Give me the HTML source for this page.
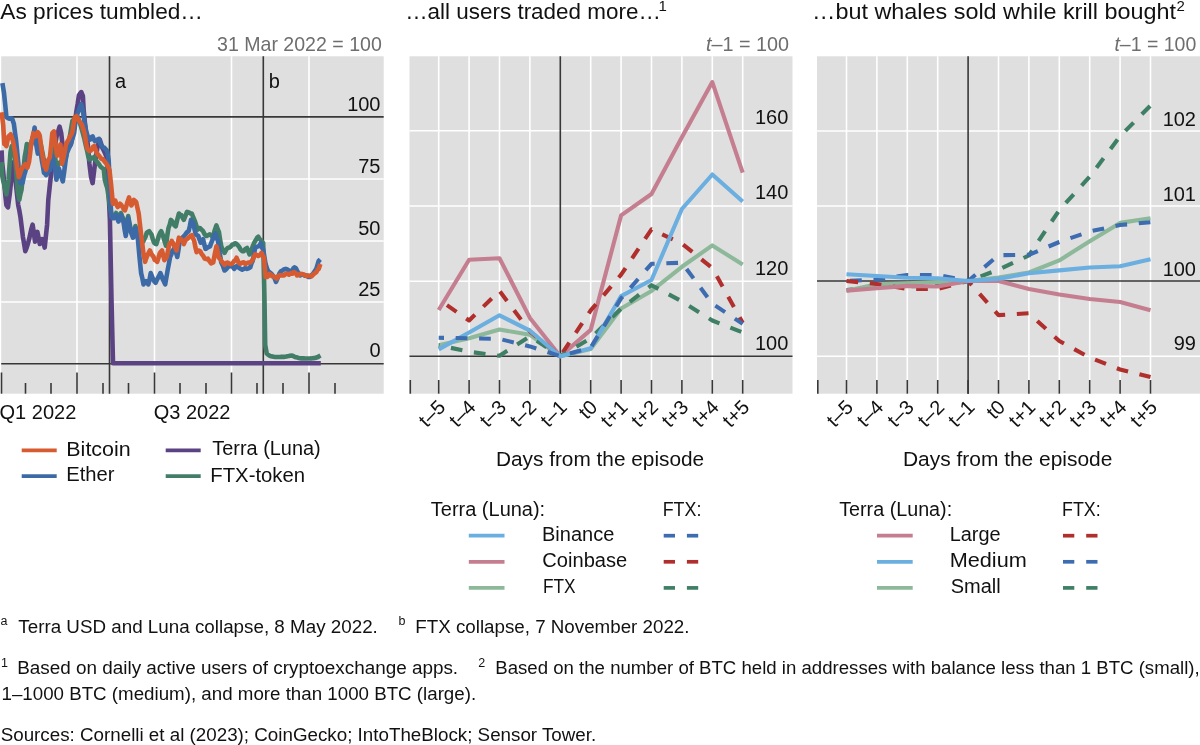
<!DOCTYPE html>
<html><head><meta charset="utf-8"><style>
html,body{margin:0;padding:0;background:#fff;}
svg{display:block;font-family:"Liberation Sans", sans-serif;will-change:transform;}
text{stroke:none;}

</style></head><body>
<svg width="1200" height="745" viewBox="0 0 1200 745">
<rect x="1.2" y="56.3" width="382.5" height="337.4" fill="#dfdfdf"/>
<line x1="1.2" y1="179" x2="383.7" y2="179" stroke="#fff" stroke-width="1.6" />
<line x1="1.2" y1="241" x2="383.7" y2="241" stroke="#fff" stroke-width="1.6" />
<line x1="1.2" y1="302" x2="383.7" y2="302" stroke="#fff" stroke-width="1.6" />
<line x1="77" y1="56.3" x2="77" y2="393.7" stroke="#fff" stroke-width="1.6" />
<line x1="154.5" y1="56.3" x2="154.5" y2="393.7" stroke="#fff" stroke-width="1.6" />
<line x1="231.5" y1="56.3" x2="231.5" y2="393.7" stroke="#fff" stroke-width="1.6" />
<line x1="309" y1="56.3" x2="309" y2="393.7" stroke="#fff" stroke-width="1.6" />
<line x1="1.2" y1="116.9" x2="383.7" y2="116.9" stroke="#383838" stroke-width="1.6" />
<line x1="1.2" y1="363.8" x2="383.7" y2="363.8" stroke="#383838" stroke-width="1.6" />
<line x1="109.5" y1="56.3" x2="109.5" y2="393.7" stroke="#383838" stroke-width="1.6" />
<line x1="263.3" y1="56.3" x2="263.3" y2="393.7" stroke="#383838" stroke-width="1.6" />
<line x1="1.5" y1="372.5" x2="1.5" y2="393.7" stroke="#383838" stroke-width="1.6" />
<line x1="77" y1="372.5" x2="77" y2="393.7" stroke="#383838" stroke-width="1.6" />
<line x1="154.5" y1="372.5" x2="154.5" y2="393.7" stroke="#383838" stroke-width="1.6" />
<line x1="231.5" y1="372.5" x2="231.5" y2="393.7" stroke="#383838" stroke-width="1.6" />
<line x1="309" y1="372.5" x2="309" y2="393.7" stroke="#383838" stroke-width="1.6" />
<line x1="25.5" y1="383" x2="25.5" y2="393.7" stroke="#383838" stroke-width="1.6" />
<line x1="51" y1="383" x2="51" y2="393.7" stroke="#383838" stroke-width="1.6" />
<line x1="103" y1="383" x2="103" y2="393.7" stroke="#383838" stroke-width="1.6" />
<line x1="128.5" y1="383" x2="128.5" y2="393.7" stroke="#383838" stroke-width="1.6" />
<line x1="180" y1="383" x2="180" y2="393.7" stroke="#383838" stroke-width="1.6" />
<line x1="206" y1="383" x2="206" y2="393.7" stroke="#383838" stroke-width="1.6" />
<line x1="257" y1="383" x2="257" y2="393.7" stroke="#383838" stroke-width="1.6" />
<line x1="283" y1="383" x2="283" y2="393.7" stroke="#383838" stroke-width="1.6" />
<line x1="335" y1="383" x2="335" y2="393.7" stroke="#383838" stroke-width="1.6" />
<polyline points="1.6,150.4 2.1,162.0 3.2,172.1 4.3,183.6 5.3,195.0 6.4,205.1 8.0,207.3 9.7,194.4 10.8,184.1 11.8,172.9 13.4,162.2 15.0,175.0 16.1,185.8 18.2,205.1 19.4,210.8 20.5,217.4 21.7,227.1 22.9,236.8 24.1,243.9 25.3,251.2 26.6,247.9 27.8,244.0 29.0,239.7 30.2,234.3 31.4,228.8 32.6,224.7 33.8,232.3 35.0,241.6 36.2,237.4 37.4,231.9 38.6,237.8 39.8,244.0 41.0,242.1 42.3,239.2 43.5,242.5 44.7,247.6 45.9,236.1 47.1,224.7 48.3,200.0 49.9,184.7 51.5,170.2 53.1,159.3 54.8,147.6 56.0,139.9 57.2,133.1 58.4,130.7 59.6,126.7 61.2,133.1 62.8,147.6 64.4,154.1 66.0,152.4 67.6,149.2 69.2,146.0 70.9,144.4 72.5,135.5 74.1,128.3 75.3,119.5 76.5,110.6 77.7,103.7 78.9,95.3 80.1,93.5 81.3,92.1 82.9,96.1 83.7,110.6 85.3,126.7 86.5,135.0 87.8,144.4 89.4,163.7 91.0,176.6 92.6,183.1 93.8,173.3 95.0,163.7 96.2,154.8 97.4,147.6 98.6,143.1 99.8,139.6 101.0,143.5 102.3,147.6 103.5,150.0 104.7,152.5 105.9,155.2 107.1,158.9 108.5,189.4 109.9,219.9 111.5,300.0 113.0,363.3 114.4,363.3 115.8,363.3 117.2,363.3 118.6,363.3 120.0,363.3 121.4,363.3 122.8,363.3 124.2,363.3 125.6,363.3 127.0,363.3 128.4,363.3 129.8,363.3 131.3,363.3 132.7,363.3 134.1,363.3 135.5,363.3 136.9,363.3 138.3,363.3 139.7,363.3 141.1,363.3 142.5,363.3 143.9,363.3 145.3,363.3 146.7,363.3 148.1,363.3 149.5,363.3 150.9,363.3 152.3,363.3 153.7,363.3 155.1,363.3 156.5,363.3 157.9,363.3 159.3,363.3 160.7,363.3 162.1,363.3 163.5,363.3 164.9,363.3 166.4,363.3 167.8,363.3 169.2,363.3 170.6,363.3 172.0,363.3 173.4,363.3 174.8,363.3 176.2,363.3 177.6,363.3 179.0,363.3 180.4,363.3 181.8,363.3 183.2,363.3 184.6,363.3 186.0,363.3 187.4,363.3 188.8,363.3 190.2,363.3 191.6,363.3 193.0,363.3 194.4,363.3 195.8,363.3 197.2,363.3 198.6,363.3 200.1,363.3 201.5,363.3 202.9,363.3 204.3,363.3 205.7,363.3 207.1,363.3 208.5,363.3 209.9,363.3 211.3,363.3 212.7,363.3 214.1,363.3 215.5,363.3 216.9,363.3 218.3,363.3 219.7,363.3 221.1,363.3 222.5,363.3 223.9,363.3 225.3,363.3 226.7,363.3 228.1,363.3 229.5,363.3 230.9,363.3 232.3,363.3 233.7,363.3 235.2,363.3 236.6,363.3 238.0,363.3 239.4,363.3 240.8,363.3 242.2,363.3 243.6,363.3 245.0,363.3 246.4,363.3 247.8,363.3 249.2,363.3 250.6,363.3 252.0,363.3 253.4,363.3 254.8,363.3 256.2,363.3 257.6,363.3 259.0,363.3 260.4,363.3 261.8,363.3 263.2,363.3 264.6,363.3 266.0,363.3 267.4,363.3 268.9,363.3 270.3,363.3 271.7,363.3 273.1,363.3 274.5,363.3 275.9,363.3 277.3,363.3 278.7,363.3 280.1,363.3 281.5,363.3 282.9,363.3 284.3,363.3 285.7,363.3 287.1,363.3 288.5,363.3 289.9,363.3 291.3,363.3 292.7,363.3 294.1,363.3 295.5,363.3 296.9,363.3 298.3,363.3 299.7,363.3 301.1,363.3 302.5,363.3 304.0,363.3 305.4,363.3 306.8,363.3 308.2,363.3 309.6,363.3 311.0,363.3 312.4,363.3 313.8,363.3 315.2,363.3 316.6,363.3 318.0,363.3 319.4,363.3 320.8,363.3" fill="none" stroke="#5b4283" stroke-width="4.6" stroke-linejoin="round" stroke-linecap="butt"/>
<polyline points="1.6,162.2 2.1,175.0 3.2,180.8 4.3,185.0 5.3,190.5 6.4,194.4 8.5,180.0 10.5,152.0 11.8,146.1 13.7,147.6 14.9,158.1 16.1,170.2 17.7,191.1 19.3,199.7 20.4,194.1 21.5,190.0 23.1,173.4 24.7,156.8 25.8,151.0 26.8,144.0 28.5,144.9 30.2,145.0 31.4,142.0 32.6,138.0 33.8,135.0 35.0,138.5 36.2,141.9 37.4,145.0 38.6,142.6 39.8,140.0 41.0,145.4 42.3,151.9 43.5,158.0 44.7,162.8 45.9,168.0 47.1,166.4 48.3,164.9 49.5,162.0 50.7,157.1 51.9,150.7 53.1,145.0 54.3,152.6 55.5,159.9 56.7,168.0 57.9,165.2 59.2,163.1 60.4,162.0 61.6,162.9 62.8,163.7 64.0,165.0 65.2,159.8 66.4,155.7 67.6,150.0 69.2,140.3 70.8,130.6 72.4,120.9 74.0,119.3 75.7,117.7 77.3,116.0 78.9,120.4 80.5,124.8 82.1,130.5 83.3,135.0 84.5,139.5 85.7,145.0 86.9,149.9 88.1,155.6 89.3,159.5 90.5,159.2 91.8,157.7 93.0,158.3 94.2,157.0 95.8,160.0 97.4,162.3 99.0,164.3 100.6,166.7 102.2,168.0 103.8,169.2 104.8,179.7 106.0,184.2 107.2,187.7 108.5,196.1 109.7,205.0 111.3,214.0 112.5,215.9 113.7,216.0 114.9,215.3 116.1,213.0 117.3,215.4 118.5,219.0 119.7,216.5 120.9,213.0 122.2,216.4 123.4,219.0 124.6,225.4 125.8,232.0 127.0,224.1 128.2,216.0 129.4,222.5 130.6,229.0 131.8,232.8 133.0,235.0 134.2,230.5 135.4,226.0 136.7,231.6 137.9,236.0 139.5,240.0 140.7,241.0 141.9,242.5 143.1,241.6 144.3,239.3 145.5,236.8 146.7,232.8 147.9,231.9 149.1,231.2 150.3,232.9 151.5,234.4 152.8,239.2 154.0,242.5 155.2,243.7 156.4,244.1 157.6,240.0 158.8,236.0 160.0,233.1 161.2,231.2 162.4,234.1 163.6,237.7 164.8,242.1 166.0,245.7 167.2,236.2 168.5,228.0 169.7,224.7 170.9,219.9 172.1,221.1 173.3,223.2 174.5,225.5 175.7,226.4 177.3,219.6 178.9,213.5 180.1,215.1 181.3,215.1 182.6,217.9 183.8,219.9 185.4,215.9 187.0,211.9 188.2,212.3 189.4,212.7 190.6,213.4 191.8,213.5 193.4,217.7 195.0,221.5 196.2,225.2 197.5,229.6 198.7,228.3 199.9,228.0 201.5,229.6 203.1,231.2 204.7,234.4 206.3,236.0 207.9,235.4 209.5,234.4 211.2,235.3 212.8,237.7 214.5,231.0 216.4,225.4 217.7,229.2 218.9,231.9 220.1,239.6 221.3,246.4 222.9,250.3 224.5,252.8 226.1,249.8 227.7,248.0 229.3,247.6 230.9,246.4 232.3,244.5 233.6,244.5 235.0,243.2 236.2,243.6 237.4,244.8 239.0,246.7 240.6,249.6 242.2,251.1 243.8,251.2 245.4,248.9 247.0,248.0 248.2,251.2 249.5,254.4 251.1,251.0 252.7,246.4 254.3,242.7 255.9,239.9 257.1,237.8 258.3,236.7 259.5,239.0 260.7,239.9 261.9,241.4 263.2,243.2 264.5,300.0 265.2,345.0 266.7,353.5 268.4,354.8 270.0,356.0 271.2,356.2 272.5,356.5 273.8,356.8 275.0,357.0 276.2,357.0 277.5,357.0 278.8,357.0 280.0,357.0 281.2,356.9 282.5,356.9 283.8,356.9 285.0,356.8 286.2,356.6 287.5,356.3 288.8,356.1 290.0,355.8 292.0,355.5 293.5,356.2 295.0,357.0 296.2,357.3 297.5,357.6 298.8,358.0 300.0,358.3 301.2,358.4 302.5,358.4 303.8,358.4 305.0,358.5 306.2,358.5 307.5,358.5 308.8,358.5 310.0,358.5 311.2,358.4 312.5,358.2 313.8,358.1 315.0,358.0 316.5,357.5 318.0,357.0 319.2,356.2 320.5,355.5" fill="none" stroke="#427d68" stroke-width="4.6" stroke-linejoin="round" stroke-linecap="butt"/>
<polyline points="2.4,83.2 4.0,92.9 5.2,104.5 6.4,117.0 7.7,117.9 8.9,118.6 10.5,118.4 12.1,118.6 13.9,124.0 15.0,132.5 16.1,140.7 18.2,162.2 19.3,176.0 20.5,183.1 22.5,183.1 24.2,175.0 25.4,171.2 26.6,167.0 27.8,159.8 29.0,154.1 30.6,146.8 32.2,141.2 33.4,135.0 34.6,127.5 36.2,144.4 37.8,153.6 39.7,146.1 41.8,160.0 42.9,166.0 44.0,172.9 45.0,173.5 46.1,175.1 47.2,173.8 48.3,170.8 49.9,170.2 51.1,162.9 52.3,155.7 53.5,162.0 54.8,167.0 56.4,179.8 57.6,174.2 58.8,168.6 60.4,173.4 61.6,177.7 62.8,181.4 64.4,170.2 65.6,160.7 66.8,152.5 68.0,150.3 69.2,147.6 70.5,145.1 71.7,141.2 72.9,137.2 74.1,133.1 75.7,120.3 77.3,113.8 78.5,111.0 79.7,107.4 81.3,104.2 82.9,110.6 84.5,121.9 86.2,131.5 87.8,136.4 89.0,138.3 90.2,139.6 91.4,137.2 92.6,136.4 93.8,139.3 95.0,141.2 96.2,140.6 97.4,139.6 99.0,138.8 100.6,144.4 101.8,145.6 103.1,147.6 104.3,147.6 105.5,149.2 107.1,150.9 108.7,160.5 110.0,190.0 111.3,216.7 112.5,218.2 113.7,218.3 114.9,216.7 116.1,215.1 117.3,218.7 118.5,221.5 119.7,219.0 120.9,215.1 122.2,218.7 123.4,221.5 124.6,229.5 125.8,236.0 127.0,227.0 128.2,218.3 129.4,225.3 130.6,231.2 131.8,234.4 133.0,237.7 134.2,233.6 135.4,228.0 136.7,234.3 137.9,239.3 139.5,257.0 141.1,273.1 142.3,278.0 143.5,284.4 144.7,282.1 145.9,281.1 147.1,282.2 148.3,284.4 149.5,279.6 150.7,273.1 151.9,276.2 153.2,279.5 154.4,281.4 155.6,282.8 156.8,280.0 158.0,277.9 159.2,275.5 160.4,273.1 161.6,276.1 162.8,279.5 164.0,281.7 165.2,284.4 166.4,277.3 167.7,269.9 168.9,263.6 170.1,257.0 171.3,254.5 172.5,250.5 173.7,249.2 174.9,247.3 176.1,252.9 177.3,257.0 178.5,249.6 179.7,240.9 180.9,240.2 182.2,237.7 183.8,236.4 185.4,234.4 187.0,232.2 188.6,231.2 189.8,226.2 191.0,219.9 192.2,222.4 193.4,223.2 194.6,229.5 195.8,234.4 197.1,235.3 198.3,236.0 199.5,239.6 200.7,242.5 201.9,240.4 203.1,239.3 204.3,244.7 205.5,248.9 206.7,248.2 207.9,247.3 210.0,246.4 211.6,242.0 213.2,238.3 214.4,235.1 215.6,233.5 216.8,238.1 218.1,241.5 219.7,252.9 221.3,262.5 222.9,265.8 224.5,270.5 226.1,269.4 227.7,267.3 229.3,266.3 230.9,265.7 232.6,266.7 234.2,268.9 235.8,266.9 237.4,265.7 239.0,267.8 240.6,268.9 242.2,269.6 243.8,268.9 245.4,268.1 247.0,268.9 248.7,268.3 250.3,267.3 251.5,263.3 252.7,260.9 253.9,254.8 255.1,248.0 256.7,246.9 258.3,246.4 259.5,245.5 260.7,243.2 261.9,247.3 263.2,249.6 264.4,256.9 265.6,264.1 267.2,268.9 268.4,271.4 269.6,272.2 271.2,273.5 272.8,275.4 274.4,277.8 276.0,281.8 277.6,278.0 279.3,273.8 280.9,271.3 282.5,270.5 284.1,269.2 285.7,268.9 287.3,269.5 288.9,270.5 290.5,270.7 292.2,270.5 293.4,268.3 294.6,267.3 295.8,268.1 297.0,270.5 298.6,273.6 300.2,275.4 301.8,274.7 303.4,274.6 305.0,275.8 306.6,275.4 308.2,276.9 309.9,277.0 311.5,275.2 313.1,273.8 314.7,271.3 316.3,268.9 317.5,264.9 318.7,260.9 320.3,259.3" fill="none" stroke="#3b6aa6" stroke-width="4.6" stroke-linejoin="round" stroke-linecap="butt"/>
<polyline points="1.6,112.2 3.2,125.1 4.3,144.0 5.3,144.6 6.4,146.1 7.5,140.5 8.6,136.4 10.7,134.3 11.8,137.3 12.9,140.7 15.0,151.5 16.1,158.9 17.2,167.6 18.8,177.2 20.4,172.9 21.4,169.5 22.5,167.6 23.9,165.8 25.2,164.3 26.3,166.7 27.4,167.6 29.0,162.2 30.1,153.6 31.1,144.0 32.2,139.1 33.3,133.2 34.3,134.3 35.4,136.4 36.5,134.3 37.6,132.1 38.7,133.3 39.7,135.4 41.8,151.5 42.9,157.9 44.0,165.4 45.0,166.8 46.1,169.7 47.2,164.3 48.3,160.0 49.9,157.3 51.1,146.0 52.3,133.1 53.9,131.5 55.6,144.4 57.2,155.7 58.8,154.1 60.4,144.4 62.0,163.7 63.6,157.3 64.8,151.4 66.0,144.4 67.6,141.2 68.8,139.4 70.0,136.4 71.2,134.5 72.5,131.5 73.7,123.7 74.9,117.0 76.5,116.2 78.1,119.5 79.7,121.9 80.9,123.2 82.1,125.1 83.3,129.3 84.5,133.1 85.8,140.8 87.0,147.6 88.2,149.9 89.4,150.9 90.6,150.7 91.8,149.2 93.0,146.9 94.2,146.0 95.4,149.4 96.6,152.5 97.8,154.4 99.0,155.7 100.2,157.3 101.4,158.9 102.7,159.1 103.9,160.5 105.1,162.1 106.3,163.7 107.9,166.2 109.5,170.2 111.1,184.7 112.9,203.8 114.1,203.0 115.3,200.6 116.5,204.5 117.7,207.0 118.9,205.5 120.1,203.8 121.3,205.0 122.6,207.0 123.8,209.4 125.0,210.3 126.2,206.4 127.4,202.2 129.0,197.4 130.2,202.1 131.4,205.4 132.6,203.2 133.8,199.8 135.0,201.0 136.2,202.2 137.4,207.7 138.7,213.5 139.9,224.1 141.1,234.4 142.3,244.0 143.5,253.8 145.1,261.8 146.3,258.0 147.5,255.4 148.7,252.6 149.9,250.5 151.2,253.5 152.4,255.4 153.6,257.0 154.8,260.2 156.0,260.2 157.2,261.8 158.4,258.0 159.6,253.8 160.8,251.8 162.0,250.5 163.2,255.4 164.4,260.2 165.6,258.5 166.8,257.0 168.1,250.3 169.3,244.1 170.5,243.4 171.7,240.9 172.9,242.8 174.1,245.7 175.3,247.9 176.5,250.5 177.7,243.6 178.9,237.7 180.1,238.7 181.3,239.3 182.6,241.3 183.8,244.1 185.0,241.4 186.2,239.3 187.4,238.9 188.6,237.7 190.2,236.1 191.8,235.2 193.0,238.2 194.2,240.9 195.4,247.3 196.6,252.2 197.8,250.6 199.1,250.5 200.3,251.4 201.5,253.8 203.1,255.7 204.7,258.6 206.3,259.1 207.9,258.6 209.5,261.2 211.1,263.4 213.2,262.5 214.8,254.0 216.4,246.4 217.7,251.7 218.9,257.7 220.1,258.7 221.3,260.9 222.9,262.8 224.5,264.9 226.1,262.9 227.7,262.5 229.3,263.7 230.9,264.1 232.6,263.2 234.2,260.9 235.4,260.1 236.6,257.7 237.8,260.9 239.0,263.3 240.6,263.7 242.2,262.5 243.8,262.4 245.4,264.1 247.1,262.9 248.7,262.5 250.3,262.5 251.9,260.9 253.5,258.1 255.1,254.4 256.7,255.0 258.3,256.0 259.9,255.2 261.5,252.8 262.8,255.5 264.0,257.7 265.6,277.0 267.2,277.0 268.4,276.0 269.6,273.8 270.8,274.6 272.0,276.2 273.2,276.0 274.4,277.0 275.6,277.7 276.8,278.6 278.1,276.3 279.3,275.4 280.9,275.2 282.5,275.4 284.1,275.4 285.7,273.8 287.3,273.9 288.9,274.6 290.5,273.3 292.2,273.8 293.4,272.2 294.6,272.2 295.8,273.2 297.0,275.4 298.6,275.1 300.2,273.8 301.8,274.0 303.4,274.6 305.0,275.0 306.6,276.2 308.2,275.5 309.9,276.2 311.5,276.3 313.1,274.6 314.7,273.3 316.3,272.2 317.5,270.0 318.7,268.9 320.3,264.1" fill="none" stroke="#d65b30" stroke-width="4.6" stroke-linejoin="round" stroke-linecap="butt"/>
<text x="380.5" y="110.5" font-size="20" text-anchor="end" fill="#111" class="g">100</text>
<text x="380.5" y="172.6" font-size="20" text-anchor="end" fill="#111" class="g">75</text>
<text x="380.5" y="234.6" font-size="20" text-anchor="end" fill="#111" class="g">50</text>
<text x="380.5" y="295.6" font-size="20" text-anchor="end" fill="#111" class="g">25</text>
<text x="380.5" y="357" font-size="20" text-anchor="end" fill="#111" class="g">0</text>
<text x="115" y="88.3" font-size="20" text-anchor="start" fill="#111" class="g">a</text>
<text x="268.7" y="88.3" font-size="20" text-anchor="start" fill="#111" class="g">b</text>
<text x="217.00" y="50.8" font-size="20.3" fill="#6e6e6e" textLength="164.83" lengthAdjust="spacingAndGlyphs">31 Mar 2022 = 100</text>
<text x="0.30" y="18.9" font-size="22.3" fill="#111" textLength="202.72" lengthAdjust="spacingAndGlyphs">As prices tumbled…</text>
<text x="-0.50" y="419" font-size="19.8" fill="#111" textLength="76.89" lengthAdjust="spacingAndGlyphs">Q1 2022</text>
<text x="153.70" y="419" font-size="19.8" fill="#111" textLength="76.69" lengthAdjust="spacingAndGlyphs">Q3 2022</text>
<text x="66.30" y="455.6" font-size="20" fill="#111" textLength="64.43" lengthAdjust="spacingAndGlyphs">Bitcoin</text>
<text x="66.30" y="481.4" font-size="20" fill="#111" textLength="48.21" lengthAdjust="spacingAndGlyphs">Ether</text>
<text x="212.30" y="455.3" font-size="20" fill="#111" textLength="108.34" lengthAdjust="spacingAndGlyphs">Terra (Luna)</text>
<text x="210.30" y="481.6" font-size="20" fill="#111" textLength="94.76" lengthAdjust="spacingAndGlyphs">FTX-token</text>
<line x1="21.7" y1="450.3" x2="56.7" y2="450.3" stroke="#d65b30" stroke-width="3.8" />
<line x1="21.7" y1="476.2" x2="56.7" y2="476.2" stroke="#3b6aa6" stroke-width="3.8" />
<line x1="165.7" y1="450.3" x2="200.7" y2="450.3" stroke="#5b4283" stroke-width="3.8" />
<line x1="165.7" y1="476.2" x2="200.7" y2="476.2" stroke="#427d68" stroke-width="3.8" />
<rect x="409.5" y="56.3" width="383.0" height="337.4" fill="#dfdfdf"/>
<line x1="409.5" y1="130.8" x2="792.5" y2="130.8" stroke="#fff" stroke-width="1.6" />
<line x1="409.5" y1="206" x2="792.5" y2="206" stroke="#fff" stroke-width="1.6" />
<line x1="409.5" y1="281.2" x2="792.5" y2="281.2" stroke="#fff" stroke-width="1.6" />
<line x1="438.7" y1="56.3" x2="438.7" y2="393.7" stroke="#fff" stroke-width="1.6" />
<line x1="469.09999999999997" y1="56.3" x2="469.09999999999997" y2="393.7" stroke="#fff" stroke-width="1.6" />
<line x1="499.5" y1="56.3" x2="499.5" y2="393.7" stroke="#fff" stroke-width="1.6" />
<line x1="529.9" y1="56.3" x2="529.9" y2="393.7" stroke="#fff" stroke-width="1.6" />
<line x1="590.7" y1="56.3" x2="590.7" y2="393.7" stroke="#fff" stroke-width="1.6" />
<line x1="621.0999999999999" y1="56.3" x2="621.0999999999999" y2="393.7" stroke="#fff" stroke-width="1.6" />
<line x1="651.5" y1="56.3" x2="651.5" y2="393.7" stroke="#fff" stroke-width="1.6" />
<line x1="681.9" y1="56.3" x2="681.9" y2="393.7" stroke="#fff" stroke-width="1.6" />
<line x1="712.3" y1="56.3" x2="712.3" y2="393.7" stroke="#fff" stroke-width="1.6" />
<line x1="742.7" y1="56.3" x2="742.7" y2="393.7" stroke="#fff" stroke-width="1.6" />
<line x1="409.5" y1="356.2" x2="792.5" y2="356.2" stroke="#383838" stroke-width="1.6" />
<line x1="560.3" y1="56.3" x2="560.3" y2="393.7" stroke="#383838" stroke-width="1.6" />
<line x1="410.3" y1="380" x2="410.3" y2="393.7" stroke="#383838" stroke-width="1.6" />
<line x1="438.7" y1="380" x2="438.7" y2="393.7" stroke="#383838" stroke-width="1.6" />
<line x1="469.09999999999997" y1="380" x2="469.09999999999997" y2="393.7" stroke="#383838" stroke-width="1.6" />
<line x1="499.5" y1="380" x2="499.5" y2="393.7" stroke="#383838" stroke-width="1.6" />
<line x1="529.9" y1="380" x2="529.9" y2="393.7" stroke="#383838" stroke-width="1.6" />
<line x1="560.3" y1="380" x2="560.3" y2="393.7" stroke="#383838" stroke-width="1.6" />
<line x1="590.7" y1="380" x2="590.7" y2="393.7" stroke="#383838" stroke-width="1.6" />
<line x1="621.0999999999999" y1="380" x2="621.0999999999999" y2="393.7" stroke="#383838" stroke-width="1.6" />
<line x1="651.5" y1="380" x2="651.5" y2="393.7" stroke="#383838" stroke-width="1.6" />
<line x1="681.9" y1="380" x2="681.9" y2="393.7" stroke="#383838" stroke-width="1.6" />
<line x1="712.3" y1="380" x2="712.3" y2="393.7" stroke="#383838" stroke-width="1.6" />
<line x1="742.7" y1="380" x2="742.7" y2="393.7" stroke="#383838" stroke-width="1.6" />
<polyline points="438.7,345.3 469.1,338.2 499.5,329.5 529.9,334.8 560.3,356.2 590.7,349.1 621.1,308.5 651.5,290.9 681.9,266.8 712.3,245.4 742.7,264.6" fill="none" stroke="#8db89a" stroke-width="4.1" stroke-linejoin="round" stroke-linecap="butt"/>
<polyline points="438.7,310.0 469.1,259.7 499.5,258.2 529.9,317.9 560.3,356.2 590.7,329.9 621.1,215.4 651.5,194.0 681.9,137.3 712.3,82.1 742.7,172.6" fill="none" stroke="#c47e90" stroke-width="4.1" stroke-linejoin="round" stroke-linecap="butt"/>
<polyline points="438.7,299.5 469.1,320.5 499.5,290.9 529.9,331.4 560.3,356.2 590.7,310.4 621.1,274.7 651.5,229.3 681.9,243.6 712.3,268.0 742.7,322.8" fill="none" stroke="#b02e2b" stroke-width="4.1" stroke-linejoin="round" stroke-linecap="butt" stroke-dasharray="11.7 11.7" stroke-dashoffset="13.4"/>
<polyline points="438.7,345.3 469.1,351.7 499.5,355.8 529.9,336.3 560.3,356.2 590.7,338.2 621.1,308.5 651.5,285.2 681.9,301.4 712.3,320.5 742.7,332.5" fill="none" stroke="#3e7f65" stroke-width="4.1" stroke-linejoin="round" stroke-linecap="butt" stroke-dasharray="11.7 11.7" stroke-dashoffset="10.9"/>
<polyline points="438.7,349.4 469.1,332.5 499.5,315.3 529.9,330.7 560.3,356.2 590.7,348.3 621.1,296.1 651.5,280.0 681.9,209.0 712.3,174.5 742.7,201.5" fill="none" stroke="#6baee0" stroke-width="4.1" stroke-linejoin="round" stroke-linecap="butt"/>
<polyline points="438.7,337.8 469.1,338.2 499.5,338.9 529.9,346.4 560.3,356.2 590.7,347.6 621.1,298.4 651.5,263.8 681.9,262.7 712.3,303.6 742.7,323.9" fill="none" stroke="#3d6cb0" stroke-width="4.1" stroke-linejoin="round" stroke-linecap="butt" stroke-dasharray="11.7 11.7" stroke-dashoffset="6.4"/>
<text x="788.3" y="124" font-size="20" text-anchor="end" fill="#111" class="g">160</text>
<text x="788.3" y="199.2" font-size="20" text-anchor="end" fill="#111" class="g">140</text>
<text x="788.3" y="274.5" font-size="20" text-anchor="end" fill="#111" class="g">120</text>
<text x="788.3" y="350" font-size="20" text-anchor="end" fill="#111" class="g">100</text>
<text x="706.00" y="50.8" font-size="20.3" fill="#6e6e6e" textLength="83.06" lengthAdjust="spacingAndGlyphs"><tspan font-style="italic">t</tspan>–1 = 100</text>
<text transform="translate(446.5,408.5) rotate(-45)" font-size="20" text-anchor="end" fill="#111">t–5</text>
<text transform="translate(476.9,408.5) rotate(-45)" font-size="20" text-anchor="end" fill="#111">t–4</text>
<text transform="translate(507.3,408.5) rotate(-45)" font-size="20" text-anchor="end" fill="#111">t–3</text>
<text transform="translate(537.6999999999999,408.5) rotate(-45)" font-size="20" text-anchor="end" fill="#111">t–2</text>
<text transform="translate(568.0999999999999,408.5) rotate(-45)" font-size="20" text-anchor="end" fill="#111">t–1</text>
<text transform="translate(598.5,408.5) rotate(-45)" font-size="20" text-anchor="end" fill="#111">t0</text>
<text transform="translate(628.8999999999999,408.5) rotate(-45)" font-size="20" text-anchor="end" fill="#111">t+1</text>
<text transform="translate(659.3,408.5) rotate(-45)" font-size="20" text-anchor="end" fill="#111">t+2</text>
<text transform="translate(689.6999999999999,408.5) rotate(-45)" font-size="20" text-anchor="end" fill="#111">t+3</text>
<text transform="translate(720.0999999999999,408.5) rotate(-45)" font-size="20" text-anchor="end" fill="#111">t+4</text>
<text transform="translate(750.5,408.5) rotate(-45)" font-size="20" text-anchor="end" fill="#111">t+5</text>
<text x="496.00" y="466.4" font-size="20.5" fill="#111" textLength="208.11" lengthAdjust="spacingAndGlyphs">Days from the episode</text>
<rect x="817" y="56.3" width="383" height="337.4" fill="#dfdfdf"/>
<line x1="817" y1="131" x2="1200" y2="131" stroke="#fff" stroke-width="1.6" />
<line x1="817" y1="206" x2="1200" y2="206" stroke="#fff" stroke-width="1.6" />
<line x1="817" y1="356.3" x2="1200" y2="356.3" stroke="#fff" stroke-width="1.6" />
<line x1="846.5" y1="56.3" x2="846.5" y2="393.7" stroke="#fff" stroke-width="1.6" />
<line x1="876.9" y1="56.3" x2="876.9" y2="393.7" stroke="#fff" stroke-width="1.6" />
<line x1="907.3" y1="56.3" x2="907.3" y2="393.7" stroke="#fff" stroke-width="1.6" />
<line x1="937.7" y1="56.3" x2="937.7" y2="393.7" stroke="#fff" stroke-width="1.6" />
<line x1="998.5" y1="56.3" x2="998.5" y2="393.7" stroke="#fff" stroke-width="1.6" />
<line x1="1028.9" y1="56.3" x2="1028.9" y2="393.7" stroke="#fff" stroke-width="1.6" />
<line x1="1059.3" y1="56.3" x2="1059.3" y2="393.7" stroke="#fff" stroke-width="1.6" />
<line x1="1089.7" y1="56.3" x2="1089.7" y2="393.7" stroke="#fff" stroke-width="1.6" />
<line x1="1120.1" y1="56.3" x2="1120.1" y2="393.7" stroke="#fff" stroke-width="1.6" />
<line x1="1150.5" y1="56.3" x2="1150.5" y2="393.7" stroke="#fff" stroke-width="1.6" />
<line x1="817" y1="281" x2="1200" y2="281" stroke="#383838" stroke-width="1.6" />
<line x1="968.1" y1="56.3" x2="968.1" y2="393.7" stroke="#383838" stroke-width="1.6" />
<line x1="817.8" y1="380" x2="817.8" y2="393.7" stroke="#383838" stroke-width="1.6" />
<line x1="846.5" y1="380" x2="846.5" y2="393.7" stroke="#383838" stroke-width="1.6" />
<line x1="876.9" y1="380" x2="876.9" y2="393.7" stroke="#383838" stroke-width="1.6" />
<line x1="907.3" y1="380" x2="907.3" y2="393.7" stroke="#383838" stroke-width="1.6" />
<line x1="937.7" y1="380" x2="937.7" y2="393.7" stroke="#383838" stroke-width="1.6" />
<line x1="968.1" y1="380" x2="968.1" y2="393.7" stroke="#383838" stroke-width="1.6" />
<line x1="998.5" y1="380" x2="998.5" y2="393.7" stroke="#383838" stroke-width="1.6" />
<line x1="1028.9" y1="380" x2="1028.9" y2="393.7" stroke="#383838" stroke-width="1.6" />
<line x1="1059.3" y1="380" x2="1059.3" y2="393.7" stroke="#383838" stroke-width="1.6" />
<line x1="1089.7" y1="380" x2="1089.7" y2="393.7" stroke="#383838" stroke-width="1.6" />
<line x1="1120.1" y1="380" x2="1120.1" y2="393.7" stroke="#383838" stroke-width="1.6" />
<line x1="1150.5" y1="380" x2="1150.5" y2="393.7" stroke="#383838" stroke-width="1.6" />
<polyline points="846.5,290.0 876.9,287.0 907.3,286.2 937.7,285.5 968.1,281.0 998.5,269.7 1028.9,255.5 1059.3,210.1 1089.7,176.7 1120.1,136.2 1150.5,105.5" fill="none" stroke="#3e7f65" stroke-width="4.1" stroke-linejoin="round" stroke-linecap="butt" stroke-dasharray="11.7 11.7" stroke-dashoffset="5"/>
<polyline points="846.5,290.7 876.9,284.2 907.3,283.3 937.7,282.0 968.1,281.0 998.5,277.5 1028.9,272.5 1059.3,260.4 1089.7,241.3 1120.1,222.9 1150.5,218.3" fill="none" stroke="#8db89a" stroke-width="4.1" stroke-linejoin="round" stroke-linecap="butt"/>
<polyline points="846.5,281.0 876.9,279.6 907.3,275.0 937.7,275.0 968.1,281.0 998.5,255.2 1028.9,254.8 1059.3,242.0 1089.7,231.5 1120.1,225.0 1150.5,222.2" fill="none" stroke="#3d6cb0" stroke-width="4.1" stroke-linejoin="round" stroke-linecap="butt" stroke-dasharray="11.7 11.7" stroke-dashoffset="19.8"/>
<polyline points="846.5,281.0 876.9,284.0 907.3,288.9 937.7,288.9 968.1,281.0 998.5,315.1 1028.9,313.3 1059.3,341.0 1089.7,357.5 1120.1,369.5 1150.5,377.0" fill="none" stroke="#b02e2b" stroke-width="4.1" stroke-linejoin="round" stroke-linecap="butt" stroke-dasharray="11.7 11.7" stroke-dashoffset="0"/>
<polyline points="846.5,290.6 876.9,288.3 907.3,285.9 937.7,286.5 968.1,281.0 998.5,281.0 1028.9,289.0 1059.3,294.5 1089.7,299.0 1120.1,302.0 1150.5,310.3" fill="none" stroke="#c47e90" stroke-width="4.1" stroke-linejoin="round" stroke-linecap="butt"/>
<polyline points="846.5,274.3 876.9,276.0 907.3,277.8 937.7,278.3 968.1,281.0 998.5,278.9 1028.9,273.2 1059.3,270.4 1089.7,267.5 1120.1,266.2 1150.5,259.3" fill="none" stroke="#6baee0" stroke-width="4.1" stroke-linejoin="round" stroke-linecap="butt"/>
<text x="1196" y="125.8" font-size="20" text-anchor="end" fill="#111" class="g">102</text>
<text x="1196" y="200.5" font-size="20" text-anchor="end" fill="#111" class="g">101</text>
<text x="1196" y="275.5" font-size="20" text-anchor="end" fill="#111" class="g">100</text>
<text x="1196" y="350.3" font-size="20" text-anchor="end" fill="#111" class="g">99</text>
<text x="1114.40" y="50.8" font-size="20.3" fill="#6e6e6e" textLength="81.86" lengthAdjust="spacingAndGlyphs"><tspan font-style="italic">t</tspan>–1 = 100</text>
<text transform="translate(854.3,408.5) rotate(-45)" font-size="20" text-anchor="end" fill="#111">t–5</text>
<text transform="translate(884.6999999999999,408.5) rotate(-45)" font-size="20" text-anchor="end" fill="#111">t–4</text>
<text transform="translate(915.0999999999999,408.5) rotate(-45)" font-size="20" text-anchor="end" fill="#111">t–3</text>
<text transform="translate(945.5,408.5) rotate(-45)" font-size="20" text-anchor="end" fill="#111">t–2</text>
<text transform="translate(975.9,408.5) rotate(-45)" font-size="20" text-anchor="end" fill="#111">t–1</text>
<text transform="translate(1006.3,408.5) rotate(-45)" font-size="20" text-anchor="end" fill="#111">t0</text>
<text transform="translate(1036.7,408.5) rotate(-45)" font-size="20" text-anchor="end" fill="#111">t+1</text>
<text transform="translate(1067.1,408.5) rotate(-45)" font-size="20" text-anchor="end" fill="#111">t+2</text>
<text transform="translate(1097.5,408.5) rotate(-45)" font-size="20" text-anchor="end" fill="#111">t+3</text>
<text transform="translate(1127.8999999999999,408.5) rotate(-45)" font-size="20" text-anchor="end" fill="#111">t+4</text>
<text transform="translate(1158.3,408.5) rotate(-45)" font-size="20" text-anchor="end" fill="#111">t+5</text>
<text x="903.00" y="466.3" font-size="20.5" fill="#111" textLength="209.31" lengthAdjust="spacingAndGlyphs">Days from the episode</text>
<text x="405.20" y="18.7" font-size="22.3" fill="#111" textLength="255.63" lengthAdjust="spacingAndGlyphs">…all users traded more…</text>
<text x="658.6" y="11.3" font-size="15" text-anchor="start" fill="#111" >1</text>
<text x="812.00" y="18.7" font-size="22.3" fill="#111" textLength="364.03" lengthAdjust="spacingAndGlyphs">…but whales sold while krill bought</text>
<text x="1176.4" y="11.3" font-size="15" text-anchor="start" fill="#111" >2</text>
<text x="430.80" y="516.2" font-size="19.6" fill="#111" textLength="114.37" lengthAdjust="spacingAndGlyphs">Terra (Luna):</text>
<text x="662.70" y="516.4" font-size="19.6" fill="#111" textLength="38.65" lengthAdjust="spacingAndGlyphs">FTX:</text>
<line x1="468.8" y1="535.7" x2="504.5" y2="535.7" stroke="#6baee0" stroke-width="3.7" />
<text x="542.00" y="541" font-size="20" fill="#111" textLength="72.28" lengthAdjust="spacingAndGlyphs">Binance</text>
<line x1="663.7" y1="535.7" x2="675.0" y2="535.7" stroke="#3d6cb0" stroke-width="3.7" />
<line x1="686.9000000000001" y1="535.7" x2="698.2" y2="535.7" stroke="#3d6cb0" stroke-width="3.7" />
<line x1="468.8" y1="561.8000000000001" x2="504.5" y2="561.8000000000001" stroke="#c47e90" stroke-width="3.7" />
<text x="542.30" y="567" font-size="20" fill="#111" textLength="84.92" lengthAdjust="spacingAndGlyphs">Coinbase</text>
<line x1="663.7" y1="561.8000000000001" x2="675.0" y2="561.8000000000001" stroke="#b02e2b" stroke-width="3.7" />
<line x1="686.9000000000001" y1="561.8000000000001" x2="698.2" y2="561.8000000000001" stroke="#b02e2b" stroke-width="3.7" />
<line x1="468.8" y1="587.9000000000001" x2="504.5" y2="587.9000000000001" stroke="#8db89a" stroke-width="3.7" />
<text x="543.00" y="593" font-size="20" fill="#111" textLength="32.58" lengthAdjust="spacingAndGlyphs">FTX</text>
<line x1="663.7" y1="587.9000000000001" x2="675.0" y2="587.9000000000001" stroke="#3e7f65" stroke-width="3.7" />
<line x1="686.9000000000001" y1="587.9000000000001" x2="698.2" y2="587.9000000000001" stroke="#3e7f65" stroke-width="3.7" />
<text x="839.20" y="516.0" font-size="19.6" fill="#111" textLength="112.97" lengthAdjust="spacingAndGlyphs">Terra (Luna):</text>
<text x="1062.00" y="516.0" font-size="19.6" fill="#111" textLength="38.65" lengthAdjust="spacingAndGlyphs">FTX:</text>
<line x1="877" y1="535.7" x2="912.7" y2="535.7" stroke="#c47e90" stroke-width="3.7" />
<text x="949.70" y="541.2" font-size="20" fill="#111" textLength="50.96" lengthAdjust="spacingAndGlyphs">Large</text>
<line x1="1063" y1="535.7" x2="1074.3" y2="535.7" stroke="#b02e2b" stroke-width="3.7" />
<line x1="1086.2" y1="535.7" x2="1097.5" y2="535.7" stroke="#b02e2b" stroke-width="3.7" />
<line x1="877" y1="561.8000000000001" x2="912.7" y2="561.8000000000001" stroke="#6baee0" stroke-width="3.7" />
<text x="949.70" y="567.2" font-size="20" fill="#111" textLength="77.14" lengthAdjust="spacingAndGlyphs">Medium</text>
<line x1="1063" y1="561.8000000000001" x2="1074.3" y2="561.8000000000001" stroke="#3d6cb0" stroke-width="3.7" />
<line x1="1086.2" y1="561.8000000000001" x2="1097.5" y2="561.8000000000001" stroke="#3d6cb0" stroke-width="3.7" />
<line x1="877" y1="587.9000000000001" x2="912.7" y2="587.9000000000001" stroke="#8db89a" stroke-width="3.7" />
<text x="950.70" y="593" font-size="20" fill="#111" textLength="50.02" lengthAdjust="spacingAndGlyphs">Small</text>
<line x1="1063" y1="587.9000000000001" x2="1074.3" y2="587.9000000000001" stroke="#3e7f65" stroke-width="3.7" />
<line x1="1086.2" y1="587.9000000000001" x2="1097.5" y2="587.9000000000001" stroke="#3e7f65" stroke-width="3.7" />
<text x="0.5" y="625.3" font-size="12.5" text-anchor="start" fill="#111" >a</text>
<text x="398.5" y="625.3" font-size="12.5" text-anchor="start" fill="#111" >b</text>
<text x="1" y="666.5" font-size="12.5" text-anchor="start" fill="#111" >1</text>
<text x="478.3" y="666.5" font-size="12.5" text-anchor="start" fill="#111" >2</text>
<text x="18.30" y="633.2" font-size="18.7" fill="#111" textLength="359.54" lengthAdjust="spacingAndGlyphs">Terra USD and Luna collapse, 8 May 2022.</text>
<text x="415.30" y="633.2" font-size="18.7" fill="#111" textLength="274.19" lengthAdjust="spacingAndGlyphs">FTX collapse, 7 November 2022.</text>
<text x="17.20" y="674.4" font-size="18.7" fill="#111" textLength="440.91" lengthAdjust="spacingAndGlyphs">Based on daily active users of cryptoexchange apps.</text>
<text x="495.30" y="674.4" font-size="18.7" fill="#111" textLength="704.38" lengthAdjust="spacingAndGlyphs">Based on the number of BTC held in addresses with balance less than 1 BTC (small),</text>
<text x="1.50" y="700.3" font-size="18.7" fill="#111" textLength="474.64" lengthAdjust="spacingAndGlyphs">1–1000 BTC (medium), and more than 1000 BTC (large).</text>
<text x="0.70" y="740.8" font-size="18.7" fill="#111" textLength="595.57" lengthAdjust="spacingAndGlyphs">Sources: Cornelli et al (2023); CoinGecko; IntoTheBlock; Sensor Tower.</text>
</svg>
</body></html>
